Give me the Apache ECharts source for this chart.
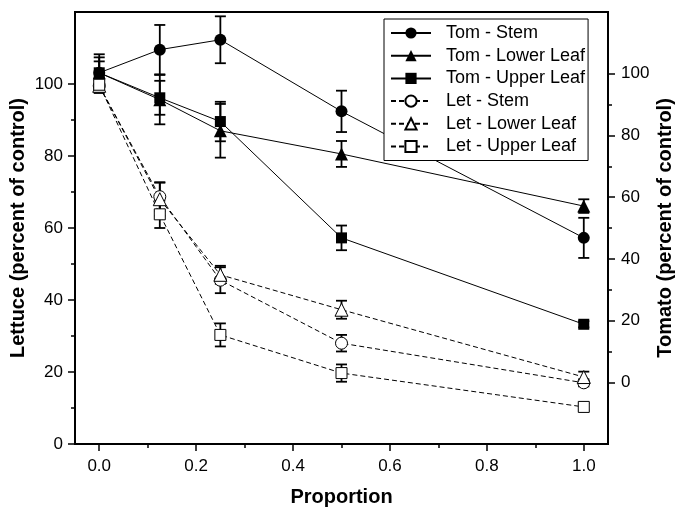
<!DOCTYPE html>
<html>
<head>
<meta charset="utf-8">
<script src="https://cdn.jsdelivr.net/npm/echarts@6/dist/echarts.min.js"></script>
<style>
  html, body { margin: 0; padding: 0; background: #fff; }
  #chart { width: 679px; height: 507px; }
</style>
</head>
<body>
<div id="chart"></div>
<script>
// proportion values on the x axis
const proportions = [0, 0.125, 0.25, 0.5, 1.0];

// tomato series (right axis) and their error half-widths
const tomStem = [100.3, 107.8, 111, 87.8, 46.8];
const tomStemErr = [6, 8, 7.6, 6.7, 6.5];
const tomLower = [100.3, 91.6, 81.5, 74, 57.1];
const tomLowerErr = [5, 8, 8.7, 4.2, 2.2];
const tomUpper = [100.3, 92.2, 84.5, 46.8, 18.8];
const tomUpperErr = [3.7, 5.5, 6.4, 4, 1];

// lettuce series (left axis)
const letStem = [99.5, 68.7, 45.5, 28, 17];
const letStemErr = [1.5, 4, 3.6, 2.3, 1];
const letLower = [99.5, 68, 47, 37.3, 18.6];
const letLowerErr = [2, 4.6, 2.5, 2.5, 1.5];
const letUpper = [99.8, 63.8, 30.3, 19.7, 10.3];
const letUpperErr = [1.5, 3.8, 3.2, 2.4, 1];

// tick labels
const xTicks = [0, 0.2, 0.4, 0.6, 0.8, 1.0];
const xMinorTicks = [0.1, 0.3, 0.5, 0.7, 0.9];
const yTicks = [0, 20, 40, 60, 80, 100];
const yMinorTicks = [10, 30, 50, 70, 90];

const font = 'Liberation Sans, Arial, sans-serif';
const gridPos = { left: 75, right: 71, top: 12, bottom: 63, outerBoundsMode: 'none', containLabel: false };

function pts(vals) {
  return proportions.map((x, i) => [x, vals[i]]);
}
function errPts(vals, errs) {
  return proportions.map((x, i) => [x, vals[i], errs[i]]);
}

function errorBars(vals, errs, yIdx) {
  return {
    type: 'custom',
    xAxisIndex: 0,
    yAxisIndex: yIdx,
    z: 2,
    silent: true,
    data: errPts(vals, errs),
    renderItem: function (params, api) {
      const x = api.value(0), y = api.value(1), e = api.value(2);
      const hi = api.coord([x, y + e]);
      const lo = api.coord([x, y - e]);
      const w = 5.5;
      const st = { stroke: '#000', lineWidth: 1.8 };
      return {
        type: 'group',
        children: [
          { type: 'line', shape: { x1: hi[0], y1: hi[1], x2: lo[0], y2: lo[1] }, style: st },
          { type: 'line', shape: { x1: hi[0] - w, y1: hi[1], x2: hi[0] + w, y2: hi[1] }, style: st },
          { type: 'line', shape: { x1: lo[0] - w, y1: lo[1], x2: lo[0] + w, y2: lo[1] }, style: st }
        ]
      };
    }
  };
}

function lineSeries(name, vals, yIdx, symbol, filled) {
  return {
    name: name,
    type: 'line',
    xAxisIndex: 0,
    yAxisIndex: yIdx,
    z: 3,
    data: pts(vals),
    symbol: symbol,
    symbolSize: symbol === 'triangle' ? 13 : (symbol === 'circle' ? 12 : 11),
    showSymbol: true,
    lineStyle: { color: '#000', width: 1, type: filled ? 'solid' : [5, 3] },
    itemStyle: { color: filled ? '#000' : '#fff', borderColor: '#000', borderWidth: filled ? 0 : 1 },
    emphasis: { disabled: true }
  };
}

const chart = echarts.init(document.getElementById('chart'));

const majorY = (min, max, pos, name) => ({
  type: 'value',
  gridIndex: 0,
  position: pos,
  min: min,
  max: max,
  interval: 20,
  name: name,
  nameLocation: 'middle',
  nameGap: 47,
  nameMoveOverlap: false,
  nameTextStyle: { fontFamily: font, fontSize: 20, fontWeight: 'bold', color: '#000' },
  axisLine: { show: true, onZero: false, lineStyle: { color: '#000', width: 2 } },
  axisTick: { show: true, inside: false, length: 7, customValues: yTicks, lineStyle: { width: 1.5, color: '#000' } },
  axisLabel: { customValues: yTicks, fontFamily: font, fontSize: 17, color: '#000', margin: pos === 'left' ? 12 : 13 },
  splitLine: { show: false }
});

const minorY = (min, max, pos) => ({
  type: 'value',
  gridIndex: 1,
  position: pos,
  min: min,
  max: max,
  axisLine: { show: false, onZero: false },
  axisTick: { show: true, length: 4, customValues: yMinorTicks, lineStyle: { width: 1.5, color: '#000' } },
  axisLabel: { show: false },
  splitLine: { show: false }
});

const option = {
  animation: false,
  backgroundColor: '#fff',
  grid: [
    Object.assign({ show: true, borderColor: '#000', borderWidth: 2, backgroundColor: 'transparent' }, gridPos),
    Object.assign({}, gridPos)
  ],
  legend: {
    data: ['Tom - Stem', 'Tom - Lower Leaf', 'Tom - Upper Leaf', 'Let - Stem', 'Let - Lower Leaf', 'Let - Upper Leaf'],
    orient: 'vertical',
    left: 384,
    top: 19,
    padding: [5, 3, 5, 6],
    itemGap: 4.7,
    itemWidth: 40,
    itemHeight: 14,
    backgroundColor: '#fff',
    borderColor: '#000',
    borderWidth: 1,
    formatter: n => '  ' + n,
    textStyle: { fontFamily: font, fontSize: 18, color: '#000', lineHeight: 18 }
  },
  xAxis: [
    {
      type: 'value',
      gridIndex: 0,
      position: 'bottom',
      min: -0.05,
      max: 1.05,
      name: 'Proportion',
      nameLocation: 'middle',
      nameGap: 43,
      nameTextStyle: { fontFamily: font, fontSize: 20, fontWeight: 'bold', color: '#000' },
      axisLine: { show: true, onZero: false, lineStyle: { color: '#000', width: 2 } },
      axisTick: { show: true, length: 7, customValues: xTicks, lineStyle: { width: 1.5, color: '#000' } },
      axisLabel: { customValues: xTicks, formatter: v => v.toFixed(1), fontFamily: font, fontSize: 17, color: '#000', margin: 14 },
      splitLine: { show: false }
    },
    {
      type: 'value',
      gridIndex: 1,
      position: 'bottom',
      min: -0.05,
      max: 1.05,
      axisLine: { show: false, onZero: false },
      axisTick: { show: true, length: 4, customValues: xMinorTicks, lineStyle: { width: 1.5, color: '#000' } },
      axisLabel: { show: false },
      splitLine: { show: false }
    }
  ],
  yAxis: [
    majorY(0, 120, 'left', 'Lettuce (percent of control)'),
    majorY(-20, 120, 'right', 'Tomato (percent of control)'),
    minorY(0, 120, 'left'),
    minorY(-20, 120, 'right')
  ],
  series: [
    errorBars(tomStem, tomStemErr, 1),
    errorBars(tomLower, tomLowerErr, 1),
    errorBars(tomUpper, tomUpperErr, 1),
    errorBars(letStem, letStemErr, 0),
    errorBars(letLower, letLowerErr, 0),
    errorBars(letUpper, letUpperErr, 0),
    lineSeries('Tom - Stem', tomStem, 1, 'circle', true),
    lineSeries('Tom - Lower Leaf', tomLower, 1, 'triangle', true),
    lineSeries('Tom - Upper Leaf', tomUpper, 1, 'rect', true),
    lineSeries('Let - Stem', letStem, 0, 'circle', false),
    lineSeries('Let - Lower Leaf', letLower, 0, 'triangle', false),
    lineSeries('Let - Upper Leaf', letUpper, 0, 'rect', false)
  ]
};

chart.setOption(option);
</script>
</body>
</html>
